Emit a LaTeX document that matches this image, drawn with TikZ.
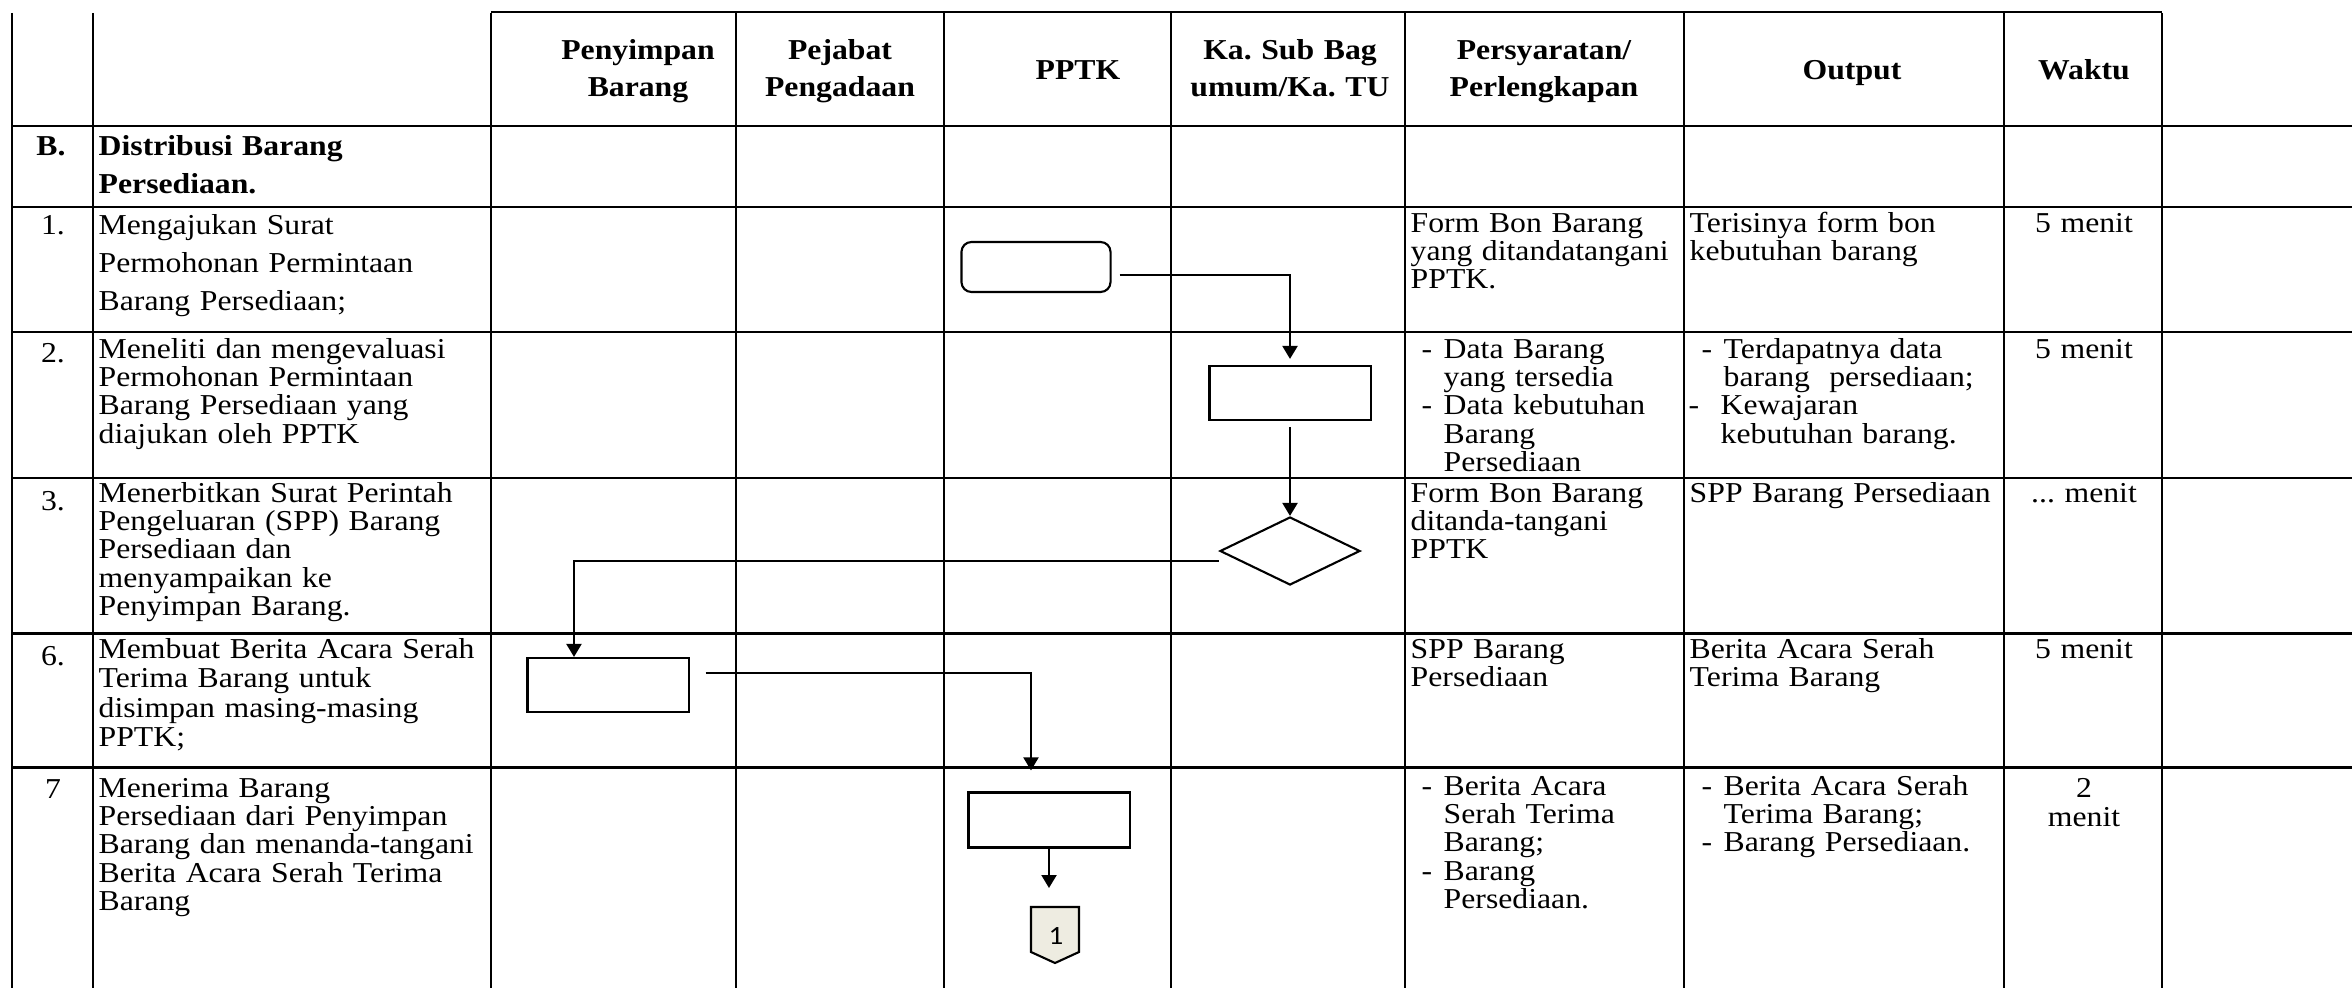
\documentclass[tikz,border=0pt]{standalone}
\usepackage{fontspec}
\setmainfont{Liberation Serif}[FakeStretch=1.1]
\newfontfamily\connfont{Carlito}[FakeStretch=1.1]
\usetikzlibrary{arrows.meta, shapes.geometric}
\definecolor{OffPage}{HTML}{EEECE1}
\newcommand{\bul}{\makebox[0.22cm][l]{-}}
\newcommand{\ind}{\hspace*{0.22cm}}
\frenchspacing

\begin{document}
\begin{tikzpicture}[x=0.01cm, y=-0.01cm, >={Triangle[length=1.3mm, width=1.5mm]},
  font=\fontsize{8.2}{8.1}\selectfont,
  t/.style={inner sep=0pt, anchor=base west, align=left, text width=#1},
  t/.default=3.9cm,
  hd/.style={inner sep=0pt, anchor=base, align=center, text width=2.4cm,
    font=\bfseries\fontsize{8.2}{10.5}\selectfont},
  n/.style={inner sep=0pt, anchor=base},
  w/.style={inner sep=0pt, anchor=base, align=center, text width=1.5cm,
    font=\fontsize{8.2}{8.5}\selectfont},
  b/.style={draw, line width=0.6pt, minimum width=1.61cm, minimum height=0.54cm, inner sep=0pt},
  hl/.style={line width=0.85pt},
  vl/.style={line width=0.55pt},
  flow/.style={->, line width=0.6pt}]
  \useasboundingbox (0,0) rectangle (2352,988);

  % grid
  \draw[hl] (491,12) -- (2162,12);
  \foreach \y in {126,207,332,478,633,767} \draw[hl] (12,\y) -- (2352,\y);
  \foreach \x in {12,93,491,736,944,1171,1405,1684,2004,2162} \draw[vl] (\x,13) -- (\x,988);

  % header
  \node[hd] (hPeny) at (638,60) {Penyimpan\\Barang};
  \node[hd] (hPej)  at (840,60) {Pejabat\\Pengadaan};
  \node[hd] (hPptk) at (1078,80) {PPTK};
  \node[hd] (hKa)   at (1290,60) {Ka. Sub Bag\\umum/Ka. TU};
  \node[hd] (hSyar) at (1544,60) {Persyaratan/\\Perlengkapan};
  \node[hd] (hOut)  at (1852,80) {Output};
  \node[hd] (hWkt)  at (2084,80) {Waktu};

  % rows
  \node[n, font=\bfseries\fontsize{8.2}{10}\selectfont] (nB) at (51,156) {B.};
  \node[t, font=\bfseries\fontsize{8.2}{10.8}\selectfont] (tB) at (98,156) {Distribusi Barang\\Persediaan.};

  \node[n] (n1) at (53,235) {1.};
  \node[t, font=\fontsize{8.2}{10.7}\selectfont] (t1) at (98,235) {Mengajukan Surat\\Permohonan Permintaan\\Barang Persediaan;};
  \node[t=2.7cm] (s1) at (1410,232) {Form Bon Barang\\yang ditandatangani\\PPTK.};
  \node[t=3.1cm] (o1) at (1689,232) {Terisinya form bon\\kebutuhan barang};
  \node[w] (w1) at (2084,232) {5 menit};

  \node[n] (n2) at (53,362) {2.};
  \node[t] (t2) at (98,358) {Meneliti dan mengevaluasi\\Permohonan Permintaan\\Barang Persediaan yang\\diajukan oleh PPTK};
  \node[t=2.7cm] (s2) at (1421,358) {\bul Data Barang\\\ind yang tersedia\\\bul Data kebutuhan\\\ind Barang\\\ind Persediaan};
  \node[t=3.1cm] (o2) at (1701,358) {\bul Terdapatnya data\\\ind barang\ \ persediaan;\\\hspace*{-0.13cm}\makebox[0.32cm][l]{-}Kewajaran\\\hspace*{0.19cm}kebutuhan barang.};
  \node[w] (w2) at (2084,358) {5 menit};

  \node[n] (n3) at (53,510) {3.};
  \node[t] (t3) at (98,502) {Menerbitkan Surat Perintah\\Pengeluaran (SPP) Barang\\Persediaan dan\\menyampaikan ke\\Penyimpan Barang.};
  \node[t=2.7cm] (s3) at (1410,502) {Form Bon Barang\\ditanda-tangani\\PPTK};
  \node[t=3.1cm] (o3) at (1689,502) {SPP Barang Persediaan};
  \node[w] (w3) at (2084,502) {... menit};

  \node[n] (n6) at (53,665) {6.};
  \node[t, font=\fontsize{8.2}{8.4}\selectfont] (t6) at (98,658) {Membuat Berita Acara Serah\\Terima Barang untuk\\disimpan masing-masing\\PPTK;};
  \node[t=2.7cm] (s6) at (1410,658) {SPP Barang\\Persediaan};
  \node[t=3.1cm] (o6) at (1689,658) {Berita Acara Serah\\Terima Barang};
  \node[w] (w6) at (2084,658) {5 menit};

  \node[n] (n7) at (53,798) {7};
  \node[t] (t7) at (98,797) {Menerima Barang\\Persediaan dari Penyimpan\\Barang dan menanda-tangani\\Berita Acara Serah Terima\\Barang};
  \node[t=2.7cm] (s7) at (1421,795) {\bul Berita Acara\\\ind Serah Terima\\\ind Barang;\\\bul Barang\\\ind Persediaan.};
  \node[t=3.1cm] (o7) at (1701,795) {\bul Berita Acara Serah\\\ind Terima Barang;\\\bul Barang Persediaan.};
  \node[w] (w7) at (2084,797) {2\\menit};

  % flow
  \node[b, rounded corners=0.1cm, minimum width=1.49cm, minimum height=0.5cm] (r1) at (1036,267) {};
  \node[b] (r2) at (1290,393) {};
  \node[draw, line width=0.6pt, diamond, aspect=2, minimum width=1.4cm, minimum height=0.68cm, inner sep=0pt] (d3) at (1290,551) {};
  \node[b] (r4) at (608,685) {};
  \node[b, minimum height=0.55cm] (r5) at (1049,820) {};
  \draw[line width=0.6pt, fill=OffPage] (1031,907) -- (1079,907) -- (1079,952) -- (1055,963) -- (1031,952) -- cycle;
  \node[inner sep=0pt, font=\connfont\fontsize{7.5}{9}\selectfont] (off) at (1056,936) {1};
  \coordinate (offin) at (1049,888);

  \draw[flow, shorten <=0.08cm, shorten >=0.06cm] ([yshift=-0.08cm]r1.east) -| (r2.north);
  \draw[flow, shorten <=0.06cm] (r2.south) -- (d3.north);
  \draw[flow] ([yshift=-0.1cm]d3.west) -| ([xshift=-0.34cm]r4.north);
  \draw[flow, shorten <=0.16cm, shorten >=0.21cm] ([yshift=0.12cm]r4.east) -| ([xshift=-0.18cm]r5.north);
  \draw[flow] (r5.south) -- (offin);
\end{tikzpicture}
\end{document}
